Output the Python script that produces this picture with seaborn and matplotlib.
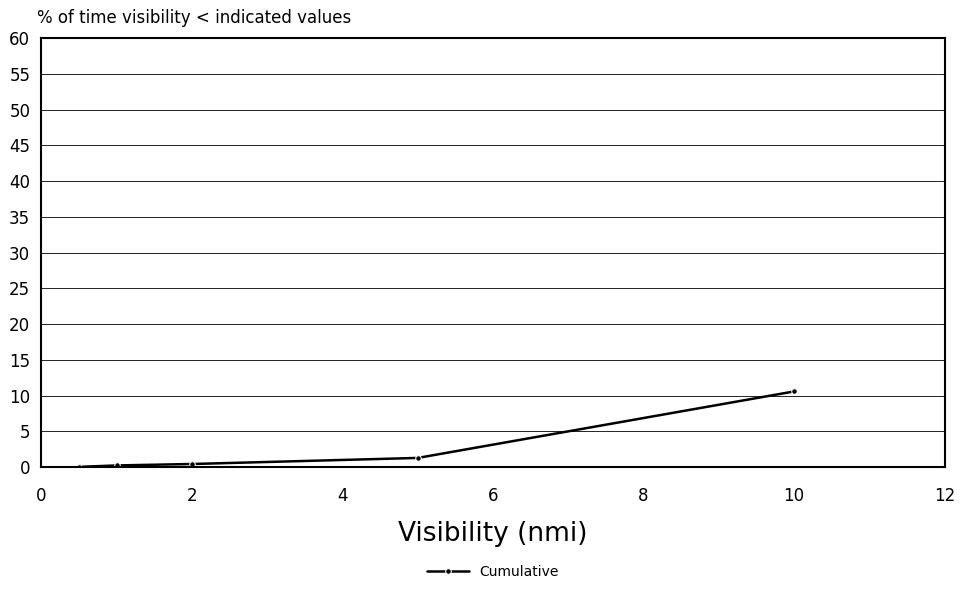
import numpy as np
import pandas as pd
import matplotlib
matplotlib.use('Agg')
import matplotlib.pyplot as plt
import seaborn as sns

# visibility values and cumulative % of time below them
visibility = [0.5, 1, 2, 5, 10]
cumulative = [0.05, 0.25, 0.45, 1.3, 10.6]
x_ticks = [0, 2, 4, 6, 8, 10, 12]
y_ticks = [0, 5, 10, 15, 20, 25, 30, 35, 40, 45, 50, 55, 60]

df = pd.DataFrame({'Visibility': visibility, 'Cumulative': cumulative})

sns.set_style('white')
plt.rcParams['font.family'] = ['DejaVu Sans']
plt.rcParams['text.color'] = 'black'

fig = plt.figure(figsize=(9.62, 6.06), dpi=100)
ax = fig.add_axes([0.043, 0.229, 0.939, 0.708])

sns.lineplot(data=df, x='Visibility', y='Cumulative', ax=ax, color='black',
             linewidth=1.8, marker='o', markersize=4, label='Cumulative')

ax.set_xlim(0, 12)
ax.set_ylim(0, 60)
ax.set_xticks(x_ticks)
ax.set_yticks(y_ticks)
ax.tick_params(axis='both', direction='in', length=6, width=1.2, labelsize=12,
               colors='black')
ax.tick_params(axis='x', pad=14)
ax.tick_params(axis='y', pad=8)
ax.yaxis.grid(True, color='#222222', linewidth=0.7, linestyle='-')
ax.xaxis.grid(False)
for s in ax.spines.values():
    s.set_color('black')
    s.set_linewidth(1.5)

ax.set_xlabel('Visibility (nmi)', fontsize=19, labelpad=12, color='black')
ax.set_ylabel('')
fig.text(0.038, 0.970, '% of time visibility < indicated values', fontsize=12,
         ha='left', va='center', color='black')

ax.legend(loc='center', bbox_to_anchor=(0.5, -0.245), frameon=False,
          fontsize=10, handlelength=3)

fig.savefig('out.png', dpi=100)
